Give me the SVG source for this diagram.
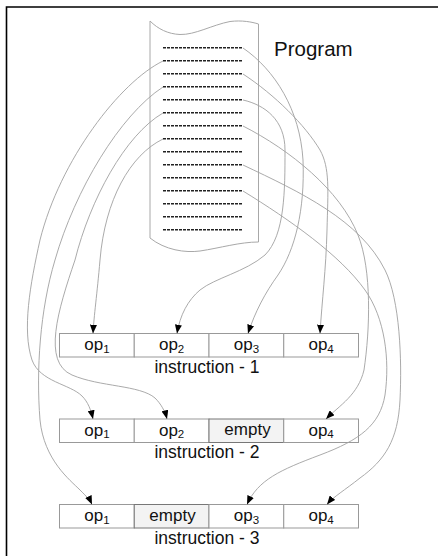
<svg xmlns="http://www.w3.org/2000/svg" width="438" height="556" viewBox="0 0 438 556">
<style>
.frame{stroke:#000;stroke-width:1.6;fill:none}
.sheet{fill:#fff;stroke:#a8a8a8;stroke-width:1}
.dash{stroke:#222;stroke-width:1.6;stroke-dasharray:3,1}
.cell{fill:#fff;stroke:#999;stroke-width:1}
.empty{fill:#f3f3f3;stroke:#777;stroke-width:1}
.txt{font-family:"Liberation Sans",Arial,sans-serif;fill:#111}
.op{font-size:17px;text-anchor:middle}
.sub{font-size:11.5px}
.lbl{font-size:17.5px;text-anchor:middle}
.conn path{fill:none;stroke:#a0a0a0;stroke-width:0.9;marker-end:url(#ah)}
</style>
<defs>
<marker id="ah" viewBox="0 0 10 8" refX="10" refY="4" markerWidth="9" markerHeight="7" markerUnits="userSpaceOnUse" orient="auto">
<path d="M0,0 L10,4 L0,8 z" fill="#000"/>
</marker>
</defs>
<path class="frame" d="M6.5,556 L6.5,7 L438,7"/>
<g id="program">
<path class="sheet" d="M150,21 C158,29 168,34 180,34.5 C195,35 212,25 230,21.5 C242,20 252,22 258.5,24 L258.5,242 C240,242 220,248 200,251 C185,253 165,250 150,238 Z"/>
<g class="dash">
<line x1="163" y1="47.7" x2="243" y2="47.7"/>
<line x1="163" y1="60.7" x2="243" y2="60.7"/>
<line x1="163" y1="73.7" x2="243" y2="73.7"/>
<line x1="163" y1="86.7" x2="243" y2="86.7"/>
<line x1="163" y1="99.7" x2="243" y2="99.7"/>
<line x1="163" y1="112.7" x2="243" y2="112.7"/>
<line x1="163" y1="125.7" x2="243" y2="125.7"/>
<line x1="163" y1="138.7" x2="243" y2="138.7"/>
<line x1="163" y1="151.7" x2="243" y2="151.7"/>
<line x1="163" y1="164.7" x2="243" y2="164.7"/>
<line x1="163" y1="177.7" x2="243" y2="177.7"/>
<line x1="163" y1="190.7" x2="243" y2="190.7"/>
<line x1="163" y1="203.7" x2="243" y2="203.7"/>
<line x1="163" y1="216.7" x2="243" y2="216.7"/>
<line x1="163" y1="229.7" x2="243" y2="229.7"/>
</g>
<text class="txt" x="274" y="56" font-size="20.5">Program</text>
</g>
<g id="instruction1">
<rect class="cell" x="59.5" y="333.5" width="74.75" height="23.5"/>
<rect class="cell" x="134.25" y="333.5" width="74.75" height="23.5"/>
<rect class="cell" x="209" y="333.5" width="74.75" height="23.5"/>
<rect class="cell" x="283.75" y="333.5" width="74.75" height="23.5"/>
<text class="txt op" x="97" y="350">op<tspan class="sub" dy="2.5">1</tspan></text>
<text class="txt op" x="171.6" y="350">op<tspan class="sub" dy="2.5">2</tspan></text>
<text class="txt op" x="246.4" y="350">op<tspan class="sub" dy="2.5">3</tspan></text>
<text class="txt op" x="321.1" y="350">op<tspan class="sub" dy="2.5">4</tspan></text>
<text class="txt lbl" x="207" y="372.5">instruction - 1</text>
</g>
<g id="instruction2">
<rect class="cell" x="59.5" y="419" width="74.75" height="23.5"/>
<rect class="cell" x="134.25" y="419" width="74.75" height="23.5"/>
<rect class="empty" x="209" y="419" width="74.75" height="23.5"/>
<rect class="cell" x="283.75" y="419" width="74.75" height="23.5"/>
<text class="txt op" x="97" y="435.5">op<tspan class="sub" dy="2.5">1</tspan></text>
<text class="txt op" x="171.6" y="435.5">op<tspan class="sub" dy="2.5">2</tspan></text>
<text class="txt op" x="247.5" y="435">empty</text>
<text class="txt op" x="321.1" y="435.5">op<tspan class="sub" dy="2.5">4</tspan></text>
<text class="txt lbl" x="207" y="458">instruction - 2</text>
</g>
<g id="instruction3">
<rect class="cell" x="59.5" y="504.5" width="74.75" height="23.5"/>
<rect class="empty" x="134.25" y="504.5" width="74.75" height="23.5"/>
<rect class="cell" x="209" y="504.5" width="74.75" height="23.5"/>
<rect class="cell" x="283.75" y="504.5" width="74.75" height="23.5"/>
<text class="txt op" x="97" y="521">op<tspan class="sub" dy="2.5">1</tspan></text>
<text class="txt op" x="172.5" y="520.5">empty</text>
<text class="txt op" x="246.4" y="521">op<tspan class="sub" dy="2.5">3</tspan></text>
<text class="txt op" x="321.1" y="521">op<tspan class="sub" dy="2.5">4</tspan></text>
<text class="txt lbl" x="207" y="543.5">instruction - 3</text>
</g>
<g id="connectors" class="conn">
<path d="M163,61 C120,82 60,160 40,240 C30,285 22,330 32,360 C40,382 70,384 82,396 C88,402 91,410 93,419"/>
<path d="M163,87 C120,115 75,190 55,260 C40,310 36,370 40,420 C44,460 70,480 80,490 C86,496 90,500 92,504.5"/>
<path d="M163,113 C125,135 90,200 75,260 C58,310 42,362 72,375 C100,387 140,385 155,398 C161,404 165,411 167,419"/>
<path d="M163,139 C130,155 105,200 100,260 C97,295 94,315 93,333.5"/>
<path d="M243,48 C275,70 300,110 303,160 C305,210 295,250 278,275 C265,293 255,312 248,333.5"/>
<path d="M243,74 C275,95 305,125 320,150 C330,168 328,190 327,230 C326,270 322,300 320,333.5"/>
<path d="M243,100 C265,105 285,120 285,150 C285,190 285,235 265,255 C245,272 215,278 200,290 C188,300 180,315 177,333.5"/>
<path d="M243,126 C290,150 340,190 358,235 C372,270 370,330 364,370 C358,395 340,405 326,419"/>
<path d="M243,165 C300,192 360,220 385,270 C400,300 402,360 400,400 C398,440 385,460 360,478 C345,490 333,497 327,504.5"/>
<path d="M243,191 C290,220 340,255 365,290 C385,318 390,360 385,395 C380,425 360,440 320,455 C280,470 258,480 247,504.5"/>
</g>
</svg>
